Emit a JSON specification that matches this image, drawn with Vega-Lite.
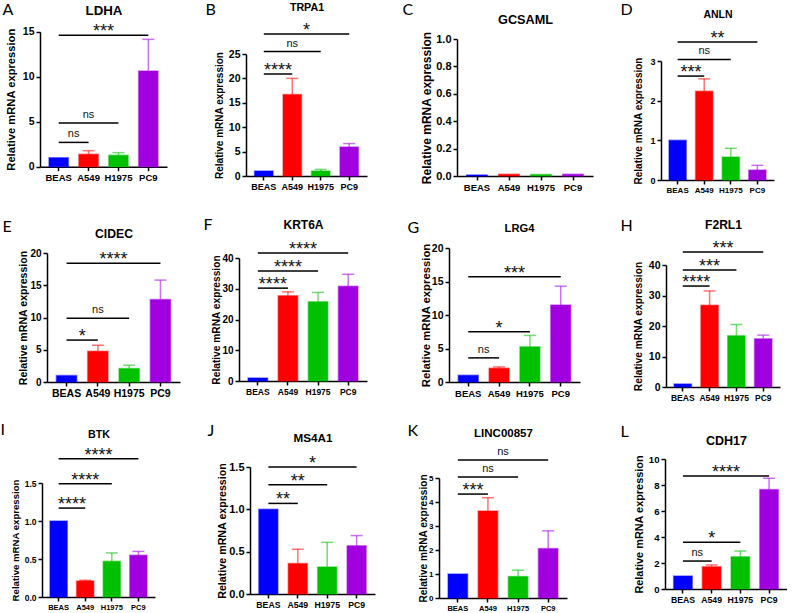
{
  "$schema": "https://vega.github.io/schema/vega-lite/v6.json",
  "padding": {"left": 0, "top": 1, "right": 0, "bottom": 0},
  "columns": 4,
  "spacing": 0,
  "bounds": "flush",
  "align": "each",
  "resolve": {"scale": {"x": "independent", "y": "independent"}},
  "config": {
    "font": "Liberation Sans",
    "view": {"stroke": null},
    "axis": {"grid": false, "domainColor": "#000", "domainWidth": 1.5, "tickColor": "#000", "tickWidth": 1.5, "tickSize": 4, "labelPadding": 2, "labelColor": "#000", "labelFontWeight": "bold", "titleColor": "#000", "titleFontWeight": "bold", "minExtent": 0, "labelOverlap": false, "labelAngle": 0},
    "axisBottom": {"titleFont": "Lato", "titleFontSize": 16, "titleFontWeight": "normal", "titleAngle": 0, "titleAlign": "left", "titleBaseline": "alphabetic"},
    "axisTop": {"titleAngle": 0, "titleAlign": "center", "titleBaseline": "alphabetic", "labels": false, "ticks": false, "domain": false},
    "bar": {"strokeWidth": 1.5, "strokeOpacity": 0.45},
    "rule": {"strokeWidth": 1.5},
    "tick": {"thickness": 1.5},
    "text": {"baseline": "alphabetic", "color": "#111"}
  },
  "datasets": {
    "expr": [
      {"gene": "LDHA", "line": "BEAS", "mean": 1.0, "upper": null},
      {"gene": "LDHA", "line": "A549", "mean": 1.38, "upper": 1.78},
      {"gene": "LDHA", "line": "H1975", "mean": 1.27, "upper": 1.56},
      {"gene": "LDHA", "line": "PC9", "mean": 10.63, "upper": 14.15},
      {"gene": "TRPA1", "line": "BEAS", "mean": 1.0, "upper": null},
      {"gene": "TRPA1", "line": "A549", "mean": 16.7, "upper": 20.0},
      {"gene": "TRPA1", "line": "H1975", "mean": 1.02, "upper": 1.35},
      {"gene": "TRPA1", "line": "PC9", "mean": 5.95, "upper": 6.65},
      {"gene": "GCSAML", "line": "BEAS", "mean": 0.008, "upper": null},
      {"gene": "GCSAML", "line": "A549", "mean": 0.012, "upper": null},
      {"gene": "GCSAML", "line": "H1975", "mean": 0.011, "upper": null},
      {"gene": "GCSAML", "line": "PC9", "mean": 0.012, "upper": null},
      {"gene": "ANLN", "line": "BEAS", "mean": 1.0, "upper": null},
      {"gene": "ANLN", "line": "A549", "mean": 2.24, "upper": 2.55},
      {"gene": "ANLN", "line": "H1975", "mean": 0.58, "upper": 0.8},
      {"gene": "ANLN", "line": "PC9", "mean": 0.25, "upper": 0.37},
      {"gene": "CIDEC", "line": "BEAS", "mean": 1.0, "upper": null},
      {"gene": "CIDEC", "line": "A549", "mean": 4.75, "upper": 5.7},
      {"gene": "CIDEC", "line": "H1975", "mean": 2.1, "upper": 2.6},
      {"gene": "CIDEC", "line": "PC9", "mean": 12.8, "upper": 15.8},
      {"gene": "KRT6A", "line": "BEAS", "mean": 1.0, "upper": null},
      {"gene": "KRT6A", "line": "A549", "mean": 27.7, "upper": 29.0},
      {"gene": "KRT6A", "line": "H1975", "mean": 25.8, "upper": 28.8},
      {"gene": "KRT6A", "line": "PC9", "mean": 30.8, "upper": 34.7},
      {"gene": "LRG4", "line": "BEAS", "mean": 1.0, "upper": null},
      {"gene": "LRG4", "line": "A549", "mean": 2.05, "upper": 2.25},
      {"gene": "LRG4", "line": "H1975", "mean": 5.25, "upper": 6.95},
      {"gene": "LRG4", "line": "PC9", "mean": 11.5, "upper": 14.3},
      {"gene": "F2RL1", "line": "BEAS", "mean": 1.0, "upper": null},
      {"gene": "F2RL1", "line": "A549", "mean": 26.8, "upper": 31.5},
      {"gene": "F2RL1", "line": "H1975", "mean": 16.8, "upper": 20.5},
      {"gene": "F2RL1", "line": "PC9", "mean": 15.8, "upper": 17.0},
      {"gene": "BTK", "line": "BEAS", "mean": 1.0, "upper": null},
      {"gene": "BTK", "line": "A549", "mean": 0.21, "upper": 0.22},
      {"gene": "BTK", "line": "H1975", "mean": 0.47, "upper": 0.58},
      {"gene": "BTK", "line": "PC9", "mean": 0.55, "upper": 0.6},
      {"gene": "MS4A1", "line": "BEAS", "mean": 1.0, "upper": null},
      {"gene": "MS4A1", "line": "A549", "mean": 0.36, "upper": 0.53},
      {"gene": "MS4A1", "line": "H1975", "mean": 0.32, "upper": 0.61},
      {"gene": "MS4A1", "line": "PC9", "mean": 0.57, "upper": 0.69},
      {"gene": "LINC00857", "line": "BEAS", "mean": 1.0, "upper": null},
      {"gene": "LINC00857", "line": "A549", "mean": 3.62, "upper": 4.18},
      {"gene": "LINC00857", "line": "H1975", "mean": 0.9, "upper": 1.16},
      {"gene": "LINC00857", "line": "PC9", "mean": 2.06, "upper": 2.8},
      {"gene": "CDH17", "line": "BEAS", "mean": 1.0, "upper": null},
      {"gene": "CDH17", "line": "A549", "mean": 1.72, "upper": 1.85},
      {"gene": "CDH17", "line": "H1975", "mean": 2.48, "upper": 2.92},
      {"gene": "CDH17", "line": "PC9", "mean": 7.65, "upper": 8.52}
    ],
    "sig": [
      {"gene": "LDHA", "from": "BEAS", "to": "A549", "k": 1, "h": 2.7, "label": "ns"},
      {"gene": "LDHA", "from": "BEAS", "to": "H1975", "k": 2, "h": 4.85, "label": "ns"},
      {"gene": "LDHA", "from": "BEAS", "to": "PC9", "k": 3, "h": 14.6, "label": "***"},
      {"gene": "TRPA1", "from": "BEAS", "to": "A549", "k": 1, "h": 20.9, "label": "****"},
      {"gene": "TRPA1", "from": "BEAS", "to": "H1975", "k": 2, "h": 25.5, "label": "ns"},
      {"gene": "TRPA1", "from": "BEAS", "to": "PC9", "k": 3, "h": 29.1, "label": "*"},
      {"gene": "ANLN", "from": "BEAS", "to": "A549", "k": 1, "h": 2.62, "label": "***"},
      {"gene": "ANLN", "from": "BEAS", "to": "H1975", "k": 2, "h": 3.04, "label": "ns"},
      {"gene": "ANLN", "from": "BEAS", "to": "PC9", "k": 3, "h": 3.48, "label": "**"},
      {"gene": "CIDEC", "from": "BEAS", "to": "A549", "k": 1, "h": 6.5, "label": "*"},
      {"gene": "CIDEC", "from": "BEAS", "to": "H1975", "k": 2, "h": 9.9, "label": "ns"},
      {"gene": "CIDEC", "from": "BEAS", "to": "PC9", "k": 3, "h": 18.4, "label": "****"},
      {"gene": "KRT6A", "from": "BEAS", "to": "A549", "k": 1, "h": 30.2, "label": "****"},
      {"gene": "KRT6A", "from": "BEAS", "to": "H1975", "k": 2, "h": 35.8, "label": "****"},
      {"gene": "KRT6A", "from": "BEAS", "to": "PC9", "k": 3, "h": 41.6, "label": "****"},
      {"gene": "LRG4", "from": "BEAS", "to": "A549", "k": 1, "h": 3.6, "label": "ns"},
      {"gene": "LRG4", "from": "BEAS", "to": "H1975", "k": 2, "h": 7.5, "label": "*"},
      {"gene": "LRG4", "from": "BEAS", "to": "PC9", "k": 3, "h": 15.7, "label": "***"},
      {"gene": "F2RL1", "from": "BEAS", "to": "A549", "k": 1, "h": 33.1, "label": "****"},
      {"gene": "F2RL1", "from": "BEAS", "to": "H1975", "k": 2, "h": 38.4, "label": "***"},
      {"gene": "F2RL1", "from": "BEAS", "to": "PC9", "k": 3, "h": 44.3, "label": "***"},
      {"gene": "BTK", "from": "BEAS", "to": "A549", "k": 1, "h": 1.17, "label": "****"},
      {"gene": "BTK", "from": "BEAS", "to": "H1975", "k": 2, "h": 1.49, "label": "****"},
      {"gene": "BTK", "from": "BEAS", "to": "PC9", "k": 3, "h": 1.82, "label": "****"},
      {"gene": "MS4A1", "from": "BEAS", "to": "A549", "k": 1, "h": 1.07, "label": "**"},
      {"gene": "MS4A1", "from": "BEAS", "to": "H1975", "k": 2, "h": 1.29, "label": "**"},
      {"gene": "MS4A1", "from": "BEAS", "to": "PC9", "k": 3, "h": 1.5, "label": "*"},
      {"gene": "LINC00857", "from": "BEAS", "to": "A549", "k": 1, "h": 4.33, "label": "***"},
      {"gene": "LINC00857", "from": "BEAS", "to": "H1975", "k": 2, "h": 5.04, "label": "ns"},
      {"gene": "LINC00857", "from": "BEAS", "to": "PC9", "k": 3, "h": 5.75, "label": "ns"},
      {"gene": "CDH17", "from": "BEAS", "to": "A549", "k": 1, "h": 2.15, "label": "ns"},
      {"gene": "CDH17", "from": "BEAS", "to": "H1975", "k": 2, "h": 3.6, "label": "*"},
      {"gene": "CDH17", "from": "BEAS", "to": "PC9", "k": 3, "h": 8.7, "label": "****"}
    ]
  },
  "concat": [
    {"width": 199, "height": 215,
     "layer": [
      {"layer": [
        {"data": {"name": "expr"}, "transform": [{"filter": "datum.gene == 'LDHA'"}],
         "layer": [
          {"mark": "bar", "encoding": {
            "x": {"field": "line", "type": "nominal", "scale": {"domain": ["BEAS", "A549", "H1975", "PC9"], "range": [0, 127], "paddingInner": 0.35, "paddingOuter": 0.3}, "axis": {"orient": "bottom", "title": "A", "titleX": -38, "titleY": -152.7, "offset": -78.3, "labelFontSize": 9.5}},
            "y": {"field": "mean", "type": "quantitative", "scale": {"domain": [0, 15], "range": [136.7, 1.7], "nice": false}, "axis": {"title": "Relative mRNA expression", "offset": 0, "values": [0, 5, 10, 15], "tickCount": 12, "format": "d", "labelOverlap": false, "labelFontSize": 10.5, "titleFontSize": 11.2, "titlePadding": 5.7}},
            "color": {"field": "line", "type": "nominal", "scale": {"domain": ["BEAS", "A549", "H1975", "PC9"], "range": ["#0000ff", "#ff0000", "#00c000", "#a000e0"]}, "legend": null},
            "stroke": {"field": "line", "type": "nominal", "scale": {"domain": ["BEAS", "A549", "H1975", "PC9"], "range": ["#0000ff", "#ff0000", "#00c000", "#a000e0"]}, "legend": null}}},
          {"transform": [{"filter": "datum.upper != null"}], "layer": [
            {"mark": {"type": "rule", "opacity": 0.55}, "encoding": {"x": {"field": "line", "type": "nominal"}, "y": {"field": "mean", "type": "quantitative"}, "y2": {"field": "upper"}, "color": {"field": "line", "type": "nominal"}}},
            {"mark": {"type": "tick", "size": 12, "opacity": 0.55}, "encoding": {"x": {"field": "line", "type": "nominal"}, "y": {"field": "upper", "type": "quantitative"}, "color": {"field": "line", "type": "nominal"}}}]}]},
        {"data": {"name": "sig"}, "transform": [{"filter": "datum.gene == 'LDHA'"}], "mark": {"type": "rule", "color": "#000"},
         "encoding": {"x": {"field": "from", "type": "nominal"}, "x2": {"field": "to"}, "y": {"field": "h", "type": "quantitative"}}}]},
      {"data": {"name": "sig"}, "transform": [{"filter": "datum.gene == 'LDHA'"}],
       "encoding": {
        "x": {"field": "k", "type": "quantitative", "scale": {"domain": [-1.25, 7.25], "range": [0, 127], "nice": false, "zero": false}, "axis": {"orient": "top", "title": "LDHA", "titleFontSize": 13.3, "titleX": 63.5, "titleY": -16}},
        "y": {"field": "h", "type": "quantitative"},
        "text": {"field": "label", "type": "nominal"}},
       "layer": [
        {"transform": [{"filter": "datum.label != 'ns'"}], "mark": {"type": "text", "fontSize": 18, "dy": 2}},
        {"transform": [{"filter": "datum.label == 'ns'"}], "mark": {"type": "text", "fontSize": 11, "dy": -5}}]}],
     "resolve": {"scale": {"x": "independent"}, "axis": {"x": "independent"}}},

    {"width": 200, "height": 215,
     "layer": [
      {"layer": [
        {"data": {"name": "expr"}, "transform": [{"filter": "datum.gene == 'TRPA1'"}],
         "layer": [
          {"mark": "bar", "encoding": {
            "x": {"field": "line", "type": "nominal", "scale": {"domain": ["BEAS", "A549", "H1975", "PC9"], "range": [7, 128], "paddingInner": 0.35, "paddingOuter": 0.3}, "axis": {"orient": "bottom", "title": "B", "titleX": -34, "titleY": -162, "offset": -69, "labelFontSize": 9}},
            "y": {"field": "mean", "type": "quantitative", "scale": {"domain": [0, 25], "range": [146, 24], "nice": false}, "axis": {"title": "Relative mRNA expression", "offset": -7, "values": [0, 5, 10, 15, 20, 25], "tickCount": 12, "format": "d", "labelOverlap": false, "labelFontSize": 10.5, "titleFontSize": 10, "titlePadding": 4.3}},
            "color": {"field": "line", "type": "nominal", "scale": {"domain": ["BEAS", "A549", "H1975", "PC9"], "range": ["#0000ff", "#ff0000", "#00c000", "#a000e0"]}, "legend": null},
            "stroke": {"field": "line", "type": "nominal", "scale": {"domain": ["BEAS", "A549", "H1975", "PC9"], "range": ["#0000ff", "#ff0000", "#00c000", "#a000e0"]}, "legend": null}}},
          {"transform": [{"filter": "datum.upper != null"}], "layer": [
            {"mark": {"type": "rule", "opacity": 0.55}, "encoding": {"x": {"field": "line", "type": "nominal"}, "y": {"field": "mean", "type": "quantitative"}, "y2": {"field": "upper"}, "color": {"field": "line", "type": "nominal"}}},
            {"mark": {"type": "tick", "size": 12, "opacity": 0.55}, "encoding": {"x": {"field": "line", "type": "nominal"}, "y": {"field": "upper", "type": "quantitative"}, "color": {"field": "line", "type": "nominal"}}}]}]},
        {"data": {"name": "sig"}, "transform": [{"filter": "datum.gene == 'TRPA1'"}], "mark": {"type": "rule", "color": "#000"},
         "encoding": {"x": {"field": "from", "type": "nominal"}, "x2": {"field": "to"}, "y": {"field": "h", "type": "quantitative"}}}]},
      {"data": {"name": "sig"}, "transform": [{"filter": "datum.gene == 'TRPA1'"}],
       "encoding": {
        "x": {"field": "k", "type": "quantitative", "scale": {"domain": [-1.25, 7.25], "range": [7, 128], "nice": false, "zero": false}, "axis": {"orient": "top", "title": "TRPA1", "titleFontSize": 10.7, "titleX": 67.5, "titleY": -20}},
        "y": {"field": "h", "type": "quantitative"},
        "text": {"field": "label", "type": "nominal"}},
       "layer": [
        {"transform": [{"filter": "datum.label != 'ns'"}], "mark": {"type": "text", "fontSize": 18, "dy": 2}},
        {"transform": [{"filter": "datum.label == 'ns'"}], "mark": {"type": "text", "fontSize": 11, "dy": -5}}]}],
     "resolve": {"scale": {"x": "independent"}, "axis": {"x": "independent"}}},

    {"width": 222, "height": 215,
     "layer": [
      {"layer": [
        {"data": {"name": "expr"}, "transform": [{"filter": "datum.gene == 'GCSAML'"}],
         "layer": [
          {"mark": "bar", "encoding": {
            "x": {"field": "line", "type": "nominal", "scale": {"domain": ["BEAS", "A549", "H1975", "PC9"], "range": [18, 154], "paddingInner": 0.35, "paddingOuter": 0.3}, "axis": {"orient": "bottom", "title": "C", "titleX": -37, "titleY": -162, "offset": -69, "labelFontSize": 9.5}},
            "y": {"field": "mean", "type": "quantitative", "scale": {"domain": [0, 1], "range": [146, 9], "nice": false}, "axis": {"title": "Relative mRNA expression", "offset": -18, "values": [0, 0.2, 0.4, 0.6, 0.8, 1], "tickCount": 12, "format": ".1f", "labelOverlap": false, "labelFontSize": 11, "titleFontSize": 12, "titlePadding": 2.7}},
            "color": {"field": "line", "type": "nominal", "scale": {"domain": ["BEAS", "A549", "H1975", "PC9"], "range": ["#0000ff", "#ff0000", "#00c000", "#a000e0"]}, "legend": null},
            "stroke": {"field": "line", "type": "nominal", "scale": {"domain": ["BEAS", "A549", "H1975", "PC9"], "range": ["#0000ff", "#ff0000", "#00c000", "#a000e0"]}, "legend": null}}},
          {"transform": [{"filter": "datum.upper != null"}], "layer": [
            {"mark": {"type": "rule", "opacity": 0.55}, "encoding": {"x": {"field": "line", "type": "nominal"}, "y": {"field": "mean", "type": "quantitative"}, "y2": {"field": "upper"}, "color": {"field": "line", "type": "nominal"}}},
            {"mark": {"type": "tick", "size": 12, "opacity": 0.55}, "encoding": {"x": {"field": "line", "type": "nominal"}, "y": {"field": "upper", "type": "quantitative"}, "color": {"field": "line", "type": "nominal"}}}]}]},
        {"data": {"name": "sig"}, "transform": [{"filter": "datum.gene == 'GCSAML'"}], "mark": {"type": "rule", "color": "#000"},
         "encoding": {"x": {"field": "from", "type": "nominal"}, "x2": {"field": "to"}, "y": {"field": "h", "type": "quantitative"}}}]},
      {"data": {"name": "sig"}, "transform": [{"filter": "datum.gene == 'GCSAML'"}],
       "encoding": {
        "x": {"field": "k", "type": "quantitative", "scale": {"domain": [-1.25, 7.25], "range": [18, 154], "nice": false, "zero": false}, "axis": {"orient": "top", "title": "GCSAML", "titleFontSize": 12.7, "titleX": 86, "titleY": -7}},
        "y": {"field": "h", "type": "quantitative"},
        "text": {"field": "label", "type": "nominal"}},
       "layer": [
        {"transform": [{"filter": "datum.label != 'ns'"}], "mark": {"type": "text", "fontSize": 18, "dy": 2}},
        {"transform": [{"filter": "datum.label == 'ns'"}], "mark": {"type": "text", "fontSize": 11, "dy": -5}}]}],
     "resolve": {"scale": {"x": "independent"}, "axis": {"x": "independent"}}},

    {"width": 126, "height": 215,
     "layer": [
      {"layer": [
        {"data": {"name": "expr"}, "transform": [{"filter": "datum.gene == 'ANLN'"}],
         "layer": [
          {"mark": "bar", "encoding": {
            "x": {"field": "line", "type": "nominal", "scale": {"domain": ["BEAS", "A549", "H1975", "PC9"], "range": [0, 113], "paddingInner": 0.35, "paddingOuter": 0.3}, "axis": {"orient": "bottom", "title": "D", "titleX": -41, "titleY": -166, "offset": -65, "labelFontSize": 8}},
            "y": {"field": "mean", "type": "quantitative", "scale": {"domain": [0, 3], "range": [150, 31], "nice": false}, "axis": {"title": "Relative mRNA expression", "offset": 0, "values": [0, 1, 2, 3], "tickCount": 12, "format": "d", "labelOverlap": false, "labelFontSize": 9, "titleFontSize": 10, "titlePadding": 6}},
            "color": {"field": "line", "type": "nominal", "scale": {"domain": ["BEAS", "A549", "H1975", "PC9"], "range": ["#0000ff", "#ff0000", "#00c000", "#a000e0"]}, "legend": null},
            "stroke": {"field": "line", "type": "nominal", "scale": {"domain": ["BEAS", "A549", "H1975", "PC9"], "range": ["#0000ff", "#ff0000", "#00c000", "#a000e0"]}, "legend": null}}},
          {"transform": [{"filter": "datum.upper != null"}], "layer": [
            {"mark": {"type": "rule", "opacity": 0.55}, "encoding": {"x": {"field": "line", "type": "nominal"}, "y": {"field": "mean", "type": "quantitative"}, "y2": {"field": "upper"}, "color": {"field": "line", "type": "nominal"}}},
            {"mark": {"type": "tick", "size": 12, "opacity": 0.55}, "encoding": {"x": {"field": "line", "type": "nominal"}, "y": {"field": "upper", "type": "quantitative"}, "color": {"field": "line", "type": "nominal"}}}]}]},
        {"data": {"name": "sig"}, "transform": [{"filter": "datum.gene == 'ANLN'"}], "mark": {"type": "rule", "color": "#000"},
         "encoding": {"x": {"field": "from", "type": "nominal"}, "x2": {"field": "to"}, "y": {"field": "h", "type": "quantitative"}}}]},
      {"data": {"name": "sig"}, "transform": [{"filter": "datum.gene == 'ANLN'"}],
       "encoding": {
        "x": {"field": "k", "type": "quantitative", "scale": {"domain": [-1.25, 7.25], "range": [0, 113], "nice": false, "zero": false}, "axis": {"orient": "top", "title": "ANLN", "titleFontSize": 10.5, "titleX": 56.5, "titleY": -13}},
        "y": {"field": "h", "type": "quantitative"},
        "text": {"field": "label", "type": "nominal"}},
       "layer": [
        {"transform": [{"filter": "datum.label != 'ns'"}], "mark": {"type": "text", "fontSize": 18, "dy": 2}},
        {"transform": [{"filter": "datum.label == 'ns'"}], "mark": {"type": "text", "fontSize": 11, "dy": -5}}]}],
     "resolve": {"scale": {"x": "independent"}, "axis": {"x": "independent"}}},

    {"width": 199, "height": 210,
     "layer": [
      {"layer": [
        {"data": {"name": "expr"}, "transform": [{"filter": "datum.gene == 'CIDEC'"}],
         "layer": [
          {"mark": "bar", "encoding": {
            "x": {"field": "line", "type": "nominal", "scale": {"domain": ["BEAS", "A549", "H1975", "PC9"], "range": [7, 140], "paddingInner": 0.35, "paddingOuter": 0.3}, "axis": {"orient": "bottom", "title": "E", "titleX": -38, "titleY": -151, "offset": -73, "labelFontSize": 10.5}},
            "y": {"field": "mean", "type": "quantitative", "scale": {"domain": [0, 20], "range": [137, 8], "nice": false}, "axis": {"title": "Relative mRNA expression", "offset": -7, "values": [0, 5, 10, 15, 20], "tickCount": 12, "format": "d", "labelOverlap": false, "labelFontSize": 10, "titleFontSize": 10.6, "titlePadding": 1.6}},
            "color": {"field": "line", "type": "nominal", "scale": {"domain": ["BEAS", "A549", "H1975", "PC9"], "range": ["#0000ff", "#ff0000", "#00c000", "#a000e0"]}, "legend": null},
            "stroke": {"field": "line", "type": "nominal", "scale": {"domain": ["BEAS", "A549", "H1975", "PC9"], "range": ["#0000ff", "#ff0000", "#00c000", "#a000e0"]}, "legend": null}}},
          {"transform": [{"filter": "datum.upper != null"}], "layer": [
            {"mark": {"type": "rule", "opacity": 0.55}, "encoding": {"x": {"field": "line", "type": "nominal"}, "y": {"field": "mean", "type": "quantitative"}, "y2": {"field": "upper"}, "color": {"field": "line", "type": "nominal"}}},
            {"mark": {"type": "tick", "size": 12, "opacity": 0.55}, "encoding": {"x": {"field": "line", "type": "nominal"}, "y": {"field": "upper", "type": "quantitative"}, "color": {"field": "line", "type": "nominal"}}}]}]},
        {"data": {"name": "sig"}, "transform": [{"filter": "datum.gene == 'CIDEC'"}], "mark": {"type": "rule", "color": "#000"},
         "encoding": {"x": {"field": "from", "type": "nominal"}, "x2": {"field": "to"}, "y": {"field": "h", "type": "quantitative"}}}]},
      {"data": {"name": "sig"}, "transform": [{"filter": "datum.gene == 'CIDEC'"}],
       "encoding": {
        "x": {"field": "k", "type": "quantitative", "scale": {"domain": [-1.25, 7.25], "range": [7, 140], "nice": false, "zero": false}, "axis": {"orient": "top", "title": "CIDEC", "titleFontSize": 12.2, "titleX": 73.5, "titleY": -8}},
        "y": {"field": "h", "type": "quantitative"},
        "text": {"field": "label", "type": "nominal"}},
       "layer": [
        {"transform": [{"filter": "datum.label != 'ns'"}], "mark": {"type": "text", "fontSize": 18, "dy": 2}},
        {"transform": [{"filter": "datum.label == 'ns'"}], "mark": {"type": "text", "fontSize": 11, "dy": -5}}]}],
     "resolve": {"scale": {"x": "independent"}, "axis": {"x": "independent"}}},

    {"width": 200, "height": 210,
     "layer": [
      {"layer": [
        {"data": {"name": "expr"}, "transform": [{"filter": "datum.gene == 'KRT6A'"}],
         "layer": [
          {"mark": "bar", "encoding": {
            "x": {"field": "line", "type": "nominal", "scale": {"domain": ["BEAS", "A549", "H1975", "PC9"], "range": [0, 128], "paddingInner": 0.35, "paddingOuter": 0.3}, "axis": {"orient": "bottom", "title": "F", "titleX": -36, "titleY": -152, "offset": -74, "labelFontSize": 8.5}},
            "y": {"field": "mean", "type": "quantitative", "scale": {"domain": [0, 40], "range": [136, 13], "nice": false}, "axis": {"title": "Relative mRNA expression", "offset": 0, "values": [0, 10, 20, 30, 40], "tickCount": 12, "format": "d", "labelOverlap": false, "labelFontSize": 10, "titleFontSize": 10.2, "titlePadding": 0}},
            "color": {"field": "line", "type": "nominal", "scale": {"domain": ["BEAS", "A549", "H1975", "PC9"], "range": ["#0000ff", "#ff0000", "#00c000", "#a000e0"]}, "legend": null},
            "stroke": {"field": "line", "type": "nominal", "scale": {"domain": ["BEAS", "A549", "H1975", "PC9"], "range": ["#0000ff", "#ff0000", "#00c000", "#a000e0"]}, "legend": null}}},
          {"transform": [{"filter": "datum.upper != null"}], "layer": [
            {"mark": {"type": "rule", "opacity": 0.55}, "encoding": {"x": {"field": "line", "type": "nominal"}, "y": {"field": "mean", "type": "quantitative"}, "y2": {"field": "upper"}, "color": {"field": "line", "type": "nominal"}}},
            {"mark": {"type": "tick", "size": 12, "opacity": 0.55}, "encoding": {"x": {"field": "line", "type": "nominal"}, "y": {"field": "upper", "type": "quantitative"}, "color": {"field": "line", "type": "nominal"}}}]}]},
        {"data": {"name": "sig"}, "transform": [{"filter": "datum.gene == 'KRT6A'"}], "mark": {"type": "rule", "color": "#000"},
         "encoding": {"x": {"field": "from", "type": "nominal"}, "x2": {"field": "to"}, "y": {"field": "h", "type": "quantitative"}}}]},
      {"data": {"name": "sig"}, "transform": [{"filter": "datum.gene == 'KRT6A'"}],
       "encoding": {
        "x": {"field": "k", "type": "quantitative", "scale": {"domain": [-1.25, 7.25], "range": [0, 128], "nice": false, "zero": false}, "axis": {"orient": "top", "title": "KRT6A", "titleFontSize": 12, "titleX": 64, "titleY": -17}},
        "y": {"field": "h", "type": "quantitative"},
        "text": {"field": "label", "type": "nominal"}},
       "layer": [
        {"transform": [{"filter": "datum.label != 'ns'"}], "mark": {"type": "text", "fontSize": 18, "dy": 2}},
        {"transform": [{"filter": "datum.label == 'ns'"}], "mark": {"type": "text", "fontSize": 11, "dy": -5}}]}],
     "resolve": {"scale": {"x": "independent"}, "axis": {"x": "independent"}}},

    {"width": 222, "height": 210,
     "layer": [
      {"layer": [
        {"data": {"name": "expr"}, "transform": [{"filter": "datum.gene == 'LRG4'"}],
         "layer": [
          {"mark": "bar", "encoding": {
            "x": {"field": "line", "type": "nominal", "scale": {"domain": ["BEAS", "A549", "H1975", "PC9"], "range": [10, 141], "paddingInner": 0.35, "paddingOuter": 0.3}, "axis": {"orient": "bottom", "title": "G", "titleX": -32, "titleY": -150, "offset": -73, "labelFontSize": 9.5}},
            "y": {"field": "mean", "type": "quantitative", "scale": {"domain": [0, 20], "range": [137, 3], "nice": false}, "axis": {"title": "Relative mRNA expression", "offset": -10, "values": [0, 5, 10, 15, 20], "tickCount": 12, "format": "d", "labelOverlap": false, "labelFontSize": 10.5, "titleFontSize": 11.3, "titlePadding": 0}},
            "color": {"field": "line", "type": "nominal", "scale": {"domain": ["BEAS", "A549", "H1975", "PC9"], "range": ["#0000ff", "#ff0000", "#00c000", "#a000e0"]}, "legend": null},
            "stroke": {"field": "line", "type": "nominal", "scale": {"domain": ["BEAS", "A549", "H1975", "PC9"], "range": ["#0000ff", "#ff0000", "#00c000", "#a000e0"]}, "legend": null}}},
          {"transform": [{"filter": "datum.upper != null"}], "layer": [
            {"mark": {"type": "rule", "opacity": 0.55}, "encoding": {"x": {"field": "line", "type": "nominal"}, "y": {"field": "mean", "type": "quantitative"}, "y2": {"field": "upper"}, "color": {"field": "line", "type": "nominal"}}},
            {"mark": {"type": "tick", "size": 12, "opacity": 0.55}, "encoding": {"x": {"field": "line", "type": "nominal"}, "y": {"field": "upper", "type": "quantitative"}, "color": {"field": "line", "type": "nominal"}}}]}]},
        {"data": {"name": "sig"}, "transform": [{"filter": "datum.gene == 'LRG4'"}], "mark": {"type": "rule", "color": "#000"},
         "encoding": {"x": {"field": "from", "type": "nominal"}, "x2": {"field": "to"}, "y": {"field": "h", "type": "quantitative"}}}]},
      {"data": {"name": "sig"}, "transform": [{"filter": "datum.gene == 'LRG4'"}],
       "encoding": {
        "x": {"field": "k", "type": "quantitative", "scale": {"domain": [-1.25, 7.25], "range": [10, 141], "nice": false, "zero": false}, "axis": {"orient": "top", "title": "LRG4", "titleFontSize": 11.2, "titleX": 80, "titleY": -14}},
        "y": {"field": "h", "type": "quantitative"},
        "text": {"field": "label", "type": "nominal"}},
       "layer": [
        {"transform": [{"filter": "datum.label != 'ns'"}], "mark": {"type": "text", "fontSize": 18, "dy": 2}},
        {"transform": [{"filter": "datum.label == 'ns'"}], "mark": {"type": "text", "fontSize": 11, "dy": -5}}]}],
     "resolve": {"scale": {"x": "independent"}, "axis": {"x": "independent"}}},

    {"width": 126, "height": 210,
     "layer": [
      {"layer": [
        {"data": {"name": "expr"}, "transform": [{"filter": "datum.gene == 'F2RL1'"}],
         "layer": [
          {"mark": "bar", "encoding": {
            "x": {"field": "line", "type": "nominal", "scale": {"domain": ["BEAS", "A549", "H1975", "PC9"], "range": [5, 119], "paddingInner": 0.35, "paddingOuter": 0.3}, "axis": {"orient": "bottom", "title": "H", "titleX": -41, "titleY": -157, "offset": -68, "labelFontSize": 8.5}},
            "y": {"field": "mean", "type": "quantitative", "scale": {"domain": [0, 40], "range": [142, 20], "nice": false}, "axis": {"title": "Relative mRNA expression", "offset": -5, "values": [0, 10, 20, 30, 40], "tickCount": 12, "format": "d", "labelOverlap": false, "labelFontSize": 10.5, "titleFontSize": 10.2, "titlePadding": 5}},
            "color": {"field": "line", "type": "nominal", "scale": {"domain": ["BEAS", "A549", "H1975", "PC9"], "range": ["#0000ff", "#ff0000", "#00c000", "#a000e0"]}, "legend": null},
            "stroke": {"field": "line", "type": "nominal", "scale": {"domain": ["BEAS", "A549", "H1975", "PC9"], "range": ["#0000ff", "#ff0000", "#00c000", "#a000e0"]}, "legend": null}}},
          {"transform": [{"filter": "datum.upper != null"}], "layer": [
            {"mark": {"type": "rule", "opacity": 0.55}, "encoding": {"x": {"field": "line", "type": "nominal"}, "y": {"field": "mean", "type": "quantitative"}, "y2": {"field": "upper"}, "color": {"field": "line", "type": "nominal"}}},
            {"mark": {"type": "tick", "size": 12, "opacity": 0.55}, "encoding": {"x": {"field": "line", "type": "nominal"}, "y": {"field": "upper", "type": "quantitative"}, "color": {"field": "line", "type": "nominal"}}}]}]},
        {"data": {"name": "sig"}, "transform": [{"filter": "datum.gene == 'F2RL1'"}], "mark": {"type": "rule", "color": "#000"},
         "encoding": {"x": {"field": "from", "type": "nominal"}, "x2": {"field": "to"}, "y": {"field": "h", "type": "quantitative"}}}]},
      {"data": {"name": "sig"}, "transform": [{"filter": "datum.gene == 'F2RL1'"}],
       "encoding": {
        "x": {"field": "k", "type": "quantitative", "scale": {"domain": [-1.25, 7.25], "range": [5, 119], "nice": false, "zero": false}, "axis": {"orient": "top", "title": "F2RL1", "titleFontSize": 12.1, "titleX": 62, "titleY": -17}},
        "y": {"field": "h", "type": "quantitative"},
        "text": {"field": "label", "type": "nominal"}},
       "layer": [
        {"transform": [{"filter": "datum.label != 'ns'"}], "mark": {"type": "text", "fontSize": 18, "dy": 2}},
        {"transform": [{"filter": "datum.label == 'ns'"}], "mark": {"type": "text", "fontSize": 11, "dy": -5}}]}],
     "resolve": {"scale": {"x": "independent"}, "axis": {"x": "independent"}}},

    {"width": 199, "height": 143,
     "layer": [
      {"layer": [
        {"data": {"name": "expr"}, "transform": [{"filter": "datum.gene == 'BTK'"}],
         "layer": [
          {"mark": "bar", "encoding": {
            "x": {"field": "line", "type": "nominal", "scale": {"domain": ["BEAS", "A549", "H1975", "PC9"], "range": [2, 115], "paddingInner": 0.35, "paddingOuter": 0.3}, "axis": {"orient": "bottom", "title": "I", "titleX": -40, "titleY": -163, "offset": -1, "labelFontSize": 7.5}},
            "y": {"field": "mean", "type": "quantitative", "scale": {"domain": [0, 1.5], "range": [142, 28], "nice": false}, "axis": {"title": "Relative mRNA expression", "offset": -2, "values": [0, 0.5, 1, 1.5], "tickCount": 12, "format": ".1f", "labelOverlap": false, "labelFontSize": 8.5, "titleFontSize": 9.6, "titlePadding": 3.5}},
            "color": {"field": "line", "type": "nominal", "scale": {"domain": ["BEAS", "A549", "H1975", "PC9"], "range": ["#0000ff", "#ff0000", "#00c000", "#a000e0"]}, "legend": null},
            "stroke": {"field": "line", "type": "nominal", "scale": {"domain": ["BEAS", "A549", "H1975", "PC9"], "range": ["#0000ff", "#ff0000", "#00c000", "#a000e0"]}, "legend": null}}},
          {"transform": [{"filter": "datum.upper != null"}], "layer": [
            {"mark": {"type": "rule", "opacity": 0.55}, "encoding": {"x": {"field": "line", "type": "nominal"}, "y": {"field": "mean", "type": "quantitative"}, "y2": {"field": "upper"}, "color": {"field": "line", "type": "nominal"}}},
            {"mark": {"type": "tick", "size": 12, "opacity": 0.55}, "encoding": {"x": {"field": "line", "type": "nominal"}, "y": {"field": "upper", "type": "quantitative"}, "color": {"field": "line", "type": "nominal"}}}]}]},
        {"data": {"name": "sig"}, "transform": [{"filter": "datum.gene == 'BTK'"}], "mark": {"type": "rule", "color": "#000"},
         "encoding": {"x": {"field": "from", "type": "nominal"}, "x2": {"field": "to"}, "y": {"field": "h", "type": "quantitative"}}}]},
      {"data": {"name": "sig"}, "transform": [{"filter": "datum.gene == 'BTK'"}],
       "encoding": {
        "x": {"field": "k", "type": "quantitative", "scale": {"domain": [-1.25, 7.25], "range": [2, 115], "nice": false, "zero": false}, "axis": {"orient": "top", "title": "BTK", "titleFontSize": 10.7, "titleX": 58.5, "titleY": -18}},
        "y": {"field": "h", "type": "quantitative"},
        "text": {"field": "label", "type": "nominal"}},
       "layer": [
        {"transform": [{"filter": "datum.label != 'ns'"}], "mark": {"type": "text", "fontSize": 18, "dy": 2}},
        {"transform": [{"filter": "datum.label == 'ns'"}], "mark": {"type": "text", "fontSize": 11, "dy": -5}}]}],
     "resolve": {"scale": {"x": "independent"}, "axis": {"x": "independent"}}},

    {"width": 200, "height": 143,
     "layer": [
      {"layer": [
        {"data": {"name": "expr"}, "transform": [{"filter": "datum.gene == 'MS4A1'"}],
         "layer": [
          {"mark": "bar", "encoding": {
            "x": {"field": "line", "type": "nominal", "scale": {"domain": ["BEAS", "A549", "H1975", "PC9"], "range": [11, 136], "paddingInner": 0.35, "paddingOuter": 0.3}, "axis": {"orient": "bottom", "title": "J", "titleX": -32, "titleY": -159, "offset": -4, "labelFontSize": 8.7}},
            "y": {"field": "mean", "type": "quantitative", "scale": {"domain": [0, 1.5], "range": [139, 12], "nice": false}, "axis": {"title": "Relative mRNA expression", "offset": -11, "values": [0, 0.5, 1, 1.5], "tickCount": 12, "format": ".1f", "labelOverlap": false, "labelFontSize": 11, "titleFontSize": 10.7, "titlePadding": 1.3}},
            "color": {"field": "line", "type": "nominal", "scale": {"domain": ["BEAS", "A549", "H1975", "PC9"], "range": ["#0000ff", "#ff0000", "#00c000", "#a000e0"]}, "legend": null},
            "stroke": {"field": "line", "type": "nominal", "scale": {"domain": ["BEAS", "A549", "H1975", "PC9"], "range": ["#0000ff", "#ff0000", "#00c000", "#a000e0"]}, "legend": null}}},
          {"transform": [{"filter": "datum.upper != null"}], "layer": [
            {"mark": {"type": "rule", "opacity": 0.55}, "encoding": {"x": {"field": "line", "type": "nominal"}, "y": {"field": "mean", "type": "quantitative"}, "y2": {"field": "upper"}, "color": {"field": "line", "type": "nominal"}}},
            {"mark": {"type": "tick", "size": 12, "opacity": 0.55}, "encoding": {"x": {"field": "line", "type": "nominal"}, "y": {"field": "upper", "type": "quantitative"}, "color": {"field": "line", "type": "nominal"}}}]}]},
        {"data": {"name": "sig"}, "transform": [{"filter": "datum.gene == 'MS4A1'"}], "mark": {"type": "rule", "color": "#000"},
         "encoding": {"x": {"field": "from", "type": "nominal"}, "x2": {"field": "to"}, "y": {"field": "h", "type": "quantitative"}}}]},
      {"data": {"name": "sig"}, "transform": [{"filter": "datum.gene == 'MS4A1'"}],
       "encoding": {
        "x": {"field": "k", "type": "quantitative", "scale": {"domain": [-1.25, 7.25], "range": [11, 136], "nice": false, "zero": false}, "axis": {"orient": "top", "title": "MS4A1", "titleFontSize": 11.7, "titleX": 73.5, "titleY": -14}},
        "y": {"field": "h", "type": "quantitative"},
        "text": {"field": "label", "type": "nominal"}},
       "layer": [
        {"transform": [{"filter": "datum.label != 'ns'"}], "mark": {"type": "text", "fontSize": 18, "dy": 2}},
        {"transform": [{"filter": "datum.label == 'ns'"}], "mark": {"type": "text", "fontSize": 11, "dy": -5}}]}],
     "resolve": {"scale": {"x": "independent"}, "axis": {"x": "independent"}}},

    {"width": 222, "height": 143,
     "layer": [
      {"layer": [
        {"data": {"name": "expr"}, "transform": [{"filter": "datum.gene == 'LINC00857'"}],
         "layer": [
          {"mark": "bar", "encoding": {
            "x": {"field": "line", "type": "nominal", "scale": {"domain": ["BEAS", "A549", "H1975", "PC9"], "range": [0, 128], "paddingInner": 0.35, "paddingOuter": 0.3}, "axis": {"orient": "bottom", "title": "K", "titleX": -32, "titleY": -163, "offset": 0, "labelFontSize": 7.5}},
            "y": {"field": "mean", "type": "quantitative", "scale": {"domain": [0, 5], "range": [143, 23], "nice": false}, "axis": {"title": "Relative mRNA expression", "offset": 0, "values": [0, 1, 2, 3, 4, 5], "tickCount": 12, "format": "d", "labelOverlap": false, "labelFontSize": 8, "titleFontSize": 10.1, "titlePadding": 0}},
            "color": {"field": "line", "type": "nominal", "scale": {"domain": ["BEAS", "A549", "H1975", "PC9"], "range": ["#0000ff", "#ff0000", "#00c000", "#a000e0"]}, "legend": null},
            "stroke": {"field": "line", "type": "nominal", "scale": {"domain": ["BEAS", "A549", "H1975", "PC9"], "range": ["#0000ff", "#ff0000", "#00c000", "#a000e0"]}, "legend": null}}},
          {"transform": [{"filter": "datum.upper != null"}], "layer": [
            {"mark": {"type": "rule", "opacity": 0.55}, "encoding": {"x": {"field": "line", "type": "nominal"}, "y": {"field": "mean", "type": "quantitative"}, "y2": {"field": "upper"}, "color": {"field": "line", "type": "nominal"}}},
            {"mark": {"type": "tick", "size": 12, "opacity": 0.55}, "encoding": {"x": {"field": "line", "type": "nominal"}, "y": {"field": "upper", "type": "quantitative"}, "color": {"field": "line", "type": "nominal"}}}]}]},
        {"data": {"name": "sig"}, "transform": [{"filter": "datum.gene == 'LINC00857'"}], "mark": {"type": "rule", "color": "#000"},
         "encoding": {"x": {"field": "from", "type": "nominal"}, "x2": {"field": "to"}, "y": {"field": "h", "type": "quantitative"}}}]},
      {"data": {"name": "sig"}, "transform": [{"filter": "datum.gene == 'LINC00857'"}],
       "encoding": {
        "x": {"field": "k", "type": "quantitative", "scale": {"domain": [-1.25, 7.25], "range": [0, 128], "nice": false, "zero": false}, "axis": {"orient": "top", "title": "LINC00857", "titleFontSize": 11.5, "titleX": 64, "titleY": -19}},
        "y": {"field": "h", "type": "quantitative"},
        "text": {"field": "label", "type": "nominal"}},
       "layer": [
        {"transform": [{"filter": "datum.label != 'ns'"}], "mark": {"type": "text", "fontSize": 18, "dy": 2}},
        {"transform": [{"filter": "datum.label == 'ns'"}], "mark": {"type": "text", "fontSize": 11, "dy": -5}}]}],
     "resolve": {"scale": {"x": "independent"}, "axis": {"x": "independent"}}},

    {"width": 126, "height": 143,
     "layer": [
      {"layer": [
        {"data": {"name": "expr"}, "transform": [{"filter": "datum.gene == 'CDH17'"}],
         "layer": [
          {"mark": "bar", "encoding": {
            "x": {"field": "line", "type": "nominal", "scale": {"domain": ["BEAS", "A549", "H1975", "PC9"], "range": [4, 126], "paddingInner": 0.35, "paddingOuter": 0.3}, "axis": {"orient": "bottom", "title": "L", "titleX": -41, "titleY": -153, "offset": -9, "labelFontSize": 8.7}},
            "y": {"field": "mean", "type": "quantitative", "scale": {"domain": [0, 10], "range": [134, 4], "nice": false}, "axis": {"title": "Relative mRNA expression", "offset": -4, "values": [0, 2, 4, 6, 8, 10], "tickCount": 12, "format": "d", "labelOverlap": false, "labelFontSize": 9.6, "titleFontSize": 10.9, "titlePadding": 3.8}},
            "color": {"field": "line", "type": "nominal", "scale": {"domain": ["BEAS", "A549", "H1975", "PC9"], "range": ["#0000ff", "#ff0000", "#00c000", "#a000e0"]}, "legend": null},
            "stroke": {"field": "line", "type": "nominal", "scale": {"domain": ["BEAS", "A549", "H1975", "PC9"], "range": ["#0000ff", "#ff0000", "#00c000", "#a000e0"]}, "legend": null}}},
          {"transform": [{"filter": "datum.upper != null"}], "layer": [
            {"mark": {"type": "rule", "opacity": 0.55}, "encoding": {"x": {"field": "line", "type": "nominal"}, "y": {"field": "mean", "type": "quantitative"}, "y2": {"field": "upper"}, "color": {"field": "line", "type": "nominal"}}},
            {"mark": {"type": "tick", "size": 12, "opacity": 0.55}, "encoding": {"x": {"field": "line", "type": "nominal"}, "y": {"field": "upper", "type": "quantitative"}, "color": {"field": "line", "type": "nominal"}}}]}]},
        {"data": {"name": "sig"}, "transform": [{"filter": "datum.gene == 'CDH17'"}], "mark": {"type": "rule", "color": "#000"},
         "encoding": {"x": {"field": "from", "type": "nominal"}, "x2": {"field": "to"}, "y": {"field": "h", "type": "quantitative"}}}]},
      {"data": {"name": "sig"}, "transform": [{"filter": "datum.gene == 'CDH17'"}],
       "encoding": {
        "x": {"field": "k", "type": "quantitative", "scale": {"domain": [-1.25, 7.25], "range": [4, 126], "nice": false, "zero": false}, "axis": {"orient": "top", "title": "CDH17", "titleFontSize": 12.5, "titleX": 65, "titleY": -11}},
        "y": {"field": "h", "type": "quantitative"},
        "text": {"field": "label", "type": "nominal"}},
       "layer": [
        {"transform": [{"filter": "datum.label != 'ns'"}], "mark": {"type": "text", "fontSize": 18, "dy": 2}},
        {"transform": [{"filter": "datum.label == 'ns'"}], "mark": {"type": "text", "fontSize": 11, "dy": -5}}]}],
     "resolve": {"scale": {"x": "independent"}, "axis": {"x": "independent"}}}
  ]
}
